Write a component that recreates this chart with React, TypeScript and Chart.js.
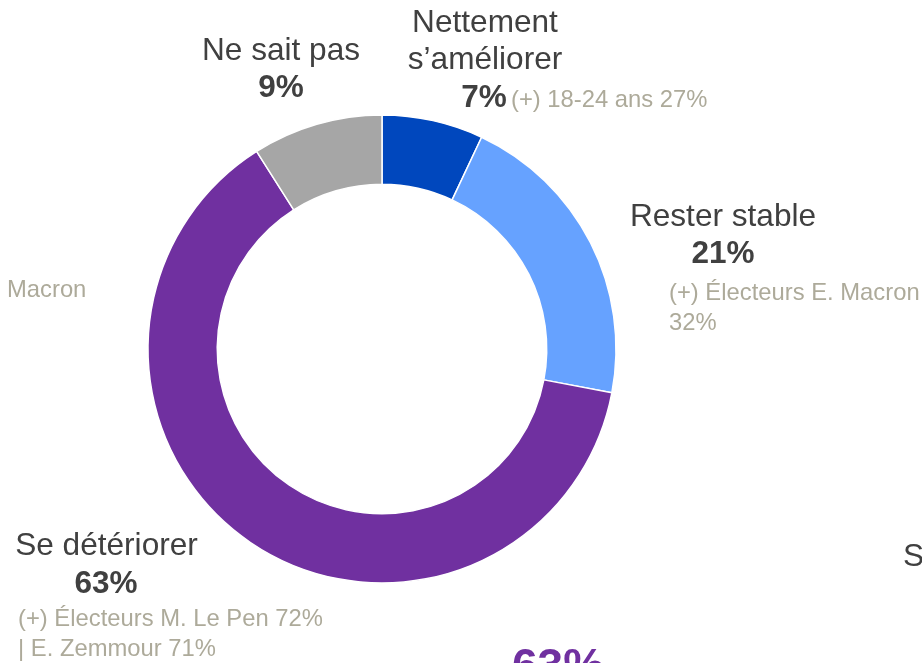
import React, { useEffect, useRef } from "react";
import { Chart, registerables } from "chart.js";

Chart.register(...registerables);

// ---- Data ----
const categories = ["Nettement s’améliorer", "Rester stable", "Se détériorer", "Ne sait pas"];
const values = [7, 21, 63, 9];
const titleLines = [["Nettement", "s’améliorer"], ["Rester stable"], ["Se détériorer"], ["Ne sait pas"]];
const subLabelLines = [
  ["(+) 18-24 ans 27%"],
  ["(+) Électeurs E. Macron", "32%"],
  ["(+) Électeurs M. Le Pen 72%", "| E. Zemmour 71%"],
  [],
];
const colors = ["#0047BD", "#66A2FF", "#7030A0", "#A6A6A6"];
const strayTexts = ["Macron", "S"];

// ---- Layout (label positions in px on the canvas) ----
type LabelLayout = {
  titleX: number;
  titleY: number[];
  pctX: number;
  pctY: number;
  pctAlign: CanvasTextAlign;
  subX: number;
  subY: number[];
};
const labelLayout: LabelLayout[] = [
  { titleX: 485, titleY: [32, 69], pctX: 484, pctY: 107, pctAlign: "center", subX: 511, subY: [107] },
  { titleX: 723, titleY: [226], pctX: 723, pctY: 263, pctAlign: "center", subX: 669, subY: [300, 330] },
  { titleX: 106.5, titleY: [555], pctX: 106, pctY: 593, pctAlign: "center", subX: 18, subY: [626, 656] },
  { titleX: 281, titleY: [60], pctX: 281, pctY: 97, pctAlign: "center", subX: 0, subY: [] },
];

const FONT = '"Liberation Sans", Arial, Helvetica, sans-serif';
const DARK = "#404040";
const GREY = "#ADAA9A";

const labelsPlugin = {
  id: "customLabels",
  afterDraw(chart: any) {
    const ctx: CanvasRenderingContext2D = chart.ctx;
    ctx.save();
    ctx.textBaseline = "alphabetic";
    values.forEach((v, i) => {
      const L = labelLayout[i];
      ctx.fillStyle = DARK;
      ctx.font = `31.6px ${FONT}`;
      ctx.textAlign = "center";
      titleLines[i].forEach((line, j) => ctx.fillText(line, L.titleX, L.titleY[j]));
      ctx.font = `bold 31.5px ${FONT}`;
      ctx.textAlign = L.pctAlign;
      ctx.fillText(`${v}%`, L.pctX, L.pctY);
      ctx.fillStyle = GREY;
      ctx.font = `23.8px ${FONT}`;
      ctx.textAlign = "left";
      subLabelLines[i].forEach((line, j) => ctx.fillText(line, L.subX, L.subY[j]));
    });
    // stray texts from neighbouring slide content
    ctx.fillStyle = GREY;
    ctx.font = `23.8px ${FONT}`;
    ctx.textAlign = "left";
    ctx.fillText(strayTexts[0], 7, 297);
    ctx.fillStyle = DARK;
    ctx.font = `31.6px ${FONT}`;
    ctx.fillText(strayTexts[1], 903, 566);
    ctx.fillStyle = colors[2];
    ctx.font = `bold 46px ${FONT}`;
    ctx.fillText(`${values[2]}%`, 512, 681);
    ctx.restore();
  },
};

export default function App() {
  const ref = useRef<HTMLCanvasElement>(null);
  useEffect(() => {
    if (!ref.current) return;
    const chart = new Chart(ref.current, {
      type: "doughnut",
      data: {
        labels: categories,
        datasets: [
          {
            data: values,
            backgroundColor: colors,
            borderColor: "#FFFFFF",
            borderWidth: 1.5,
            hoverOffset: 0,
          },
        ],
      },
      options: {
        responsive: false,
        animation: false,
        radius: 234,
        cutout: "70.4%",
        layout: { padding: { left: 148, right: 306, top: 115, bottom: 80 } },
        plugins: { legend: { display: false }, tooltip: { enabled: false } },
        events: [],
      } as any,
      plugins: [labelsPlugin],
    });
    return () => chart.destroy();
  }, []);
  return (
    <div style={{ position: "absolute", left: 0, top: 0, width: 922, height: 663, background: "#fff" }}>
      <canvas ref={ref} width={922} height={663} style={{ display: "block", width: 922, height: 663 }} />
    </div>
  );
}
